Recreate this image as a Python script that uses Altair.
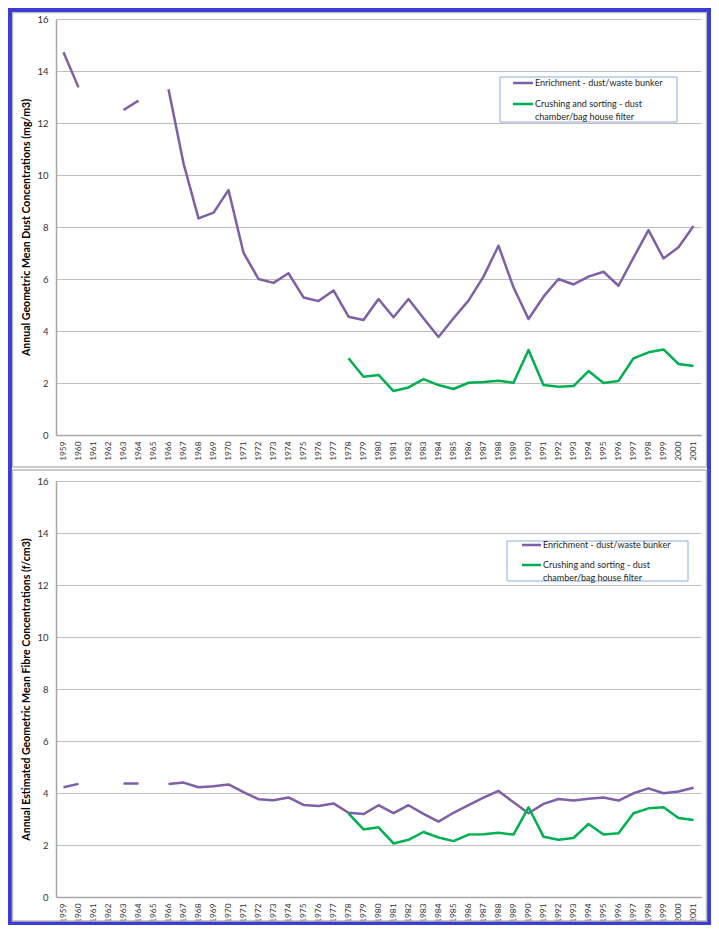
import altair as alt
import pandas as pd

years = [str(y) for y in range(1959, 2002)]
series = ["Enrichment - dust/waste bunker", "Crushing and sorting - dust chamber/bag house filter"]
legend_labels = ["Enrichment - dust/waste bunker", "Crushing and sorting - dust\nchamber/bag house filter"]
colors = ["#7D60A6", "#00B050"]

# Top panel: dust (mg/m3), 1959..2001
dust_enrich = [14.72, 13.37, None, None, 12.5, 12.86, None, 13.3, 10.45, 8.33,
               8.55, 9.42, 7.01, 6.0, 5.85, 6.22, 5.29, 5.15, 5.56, 4.55,
               4.42, 5.23, 4.53, 5.23, 4.49, 3.77, 4.49, 5.17, 6.09, 7.28,
               5.68, 4.46, 5.32, 6.0, 5.79, 6.09, 6.28, 5.74, 6.82, 7.88,
               6.79, 7.22, 8.04]
dust_crush = [None] * 19 + [2.95, 2.24, 2.31, 1.69, 1.83, 2.15, 1.92, 1.77, 2.01, 2.04,
                            2.09, 2.01, 3.27, 1.92, 1.86, 1.88, 2.46, 2.0, 2.08, 2.95,
                            3.18, 3.29, 2.73, 2.65]

# Bottom panel: fibre (f/cm3)
fibre_enrich = [4.22, 4.35, None, None, 4.37, 4.37, None, 4.35, 4.4, 4.22,
                4.26, 4.33, 4.03, 3.76, 3.72, 3.83, 3.54, 3.5, 3.6, 3.24,
                3.19, 3.53, 3.23, 3.53, 3.2, 2.9, 3.24, 3.53, 3.82, 4.08,
                3.64, 3.22, 3.58, 3.77, 3.71, 3.78, 3.83, 3.71, 3.99, 4.18,
                3.99, 4.06, 4.2]
fibre_crush = [None] * 19 + [3.22, 2.6, 2.68, 2.06, 2.2, 2.5, 2.29, 2.15, 2.4, 2.41,
                             2.47, 2.4, 3.45, 2.32, 2.2, 2.27, 2.81, 2.4, 2.45, 3.22,
                             3.41, 3.45, 3.04, 2.96]

y_ticks = [0, 2, 4, 6, 8, 10, 12, 14, 16]

FONT = "Lato"
one = pd.DataFrame({"k": [0]})


def long_df(a, b):
    rows = []
    for s, vals in zip(series, [a, b]):
        for y, v in zip(years, vals):
            rows.append({"year": y, "series": s, "value": v})
    return pd.DataFrame(rows)


def panel(df, ytitle, frame, leg, extra=None):
    lines = alt.Chart(df).mark_line(
        strokeWidth=2.5, invalid="break-paths-filter-domains", strokeJoin="round"
    ).encode(
        x=alt.X("year:O", sort=years,
                scale=alt.Scale(type="point", domain=years, padding=0.5),
                axis=alt.Axis(title=None, labelAngle=270, labelFontSize=8.3,
                              labelPadding=6, ticks=False, grid=False,
                              domainColor="#A6A6A6", domainWidth=1.5,
                              labelColor="#303030", labelFont=FONT)),
        y=alt.Y("value:Q", scale=alt.Scale(domain=[0, 16], nice=False),
                axis=alt.Axis(title=ytitle, values=y_ticks, ticks=False,
                              labelPadding=8, labelFontSize=9.5, labelColor="#303030",
                              labelFont=FONT, grid=True, gridColor="#BEBEBE",
                              gridWidth=1.2, domainColor="#A6A6A6", domainWidth=1.5,
                              titleFont=FONT, titleFontSize=10.6, titleFontWeight="bold",
                              titleColor="#000000", titlePadding=5)),
        color=alt.Color("series:N", scale=alt.Scale(domain=series, range=colors), legend=None),
    )
    fx1, fy1, fx2, fy2 = frame
    frame_rect = alt.Chart(one).mark_rect(fillOpacity=0, stroke="#BBBBBB", strokeWidth=1.5).encode(
        x=alt.value(fx1), x2=alt.value(fx2), y=alt.value(fy1), y2=alt.value(fy2))

    bx1, by1, bx2, by2, sx1, sx2, sy1, sy2, tx = leg
    box = alt.Chart(one).mark_rect(fillOpacity=0, stroke="#8EAADB", strokeWidth=1).encode(
        x=alt.value(bx1), x2=alt.value(bx2), y=alt.value(by1), y2=alt.value(by2))
    layers = [frame_rect, lines, box]
    for lab, col, sy in zip(legend_labels, colors, [sy1, sy2]):
        layers.append(alt.Chart(one).mark_rule(color=col, strokeWidth=2.5).encode(
            x=alt.value(sx1), x2=alt.value(sx2), y=alt.value(sy)))
        layers.append(alt.Chart(one).mark_text(
            align="left", baseline="middle", fontSize=9, font=FONT, color="#262626",
            lineBreak="\n", lineHeight=13).encode(
            x=alt.value(tx), y=alt.value(sy), text=alt.value(lab)))
    if extra is not None:
        layers.append(extra)
    return alt.layer(*layers).properties(width=645, height=416)


border = alt.Chart(one).mark_rect(fillOpacity=0, stroke="#3C3CD6", strokeWidth=4).encode(
    x=alt.value(-46), x2=alt.value(653), y=alt.value(-9), y2=alt.value(904))

top = panel(long_df(dust_enrich, dust_crush),
            "Annual Geometric Mean Dust Concentrations (mg/m3)",
            (-43.5, -6.5, 650.5, 448),
            (444, 58, 621, 103, 457, 477, 64, 85, 479),
            extra=border)
bottom = panel(long_df(fibre_enrich, fibre_crush),
               "Annual Estimated Geometric Mean Fibre Concentrations (f/cm3)",
               (-43.5, -11, 650.5, 440),
               (451, 60, 632, 100, 466, 485, 64, 84, 487))

chart = alt.vconcat(top, bottom, spacing=46, bounds="flush").properties(
    padding=0, background="white"
).configure_view(stroke=None)

chart.save("out.html", embed_options={"renderer": "svg", "actions": False})
